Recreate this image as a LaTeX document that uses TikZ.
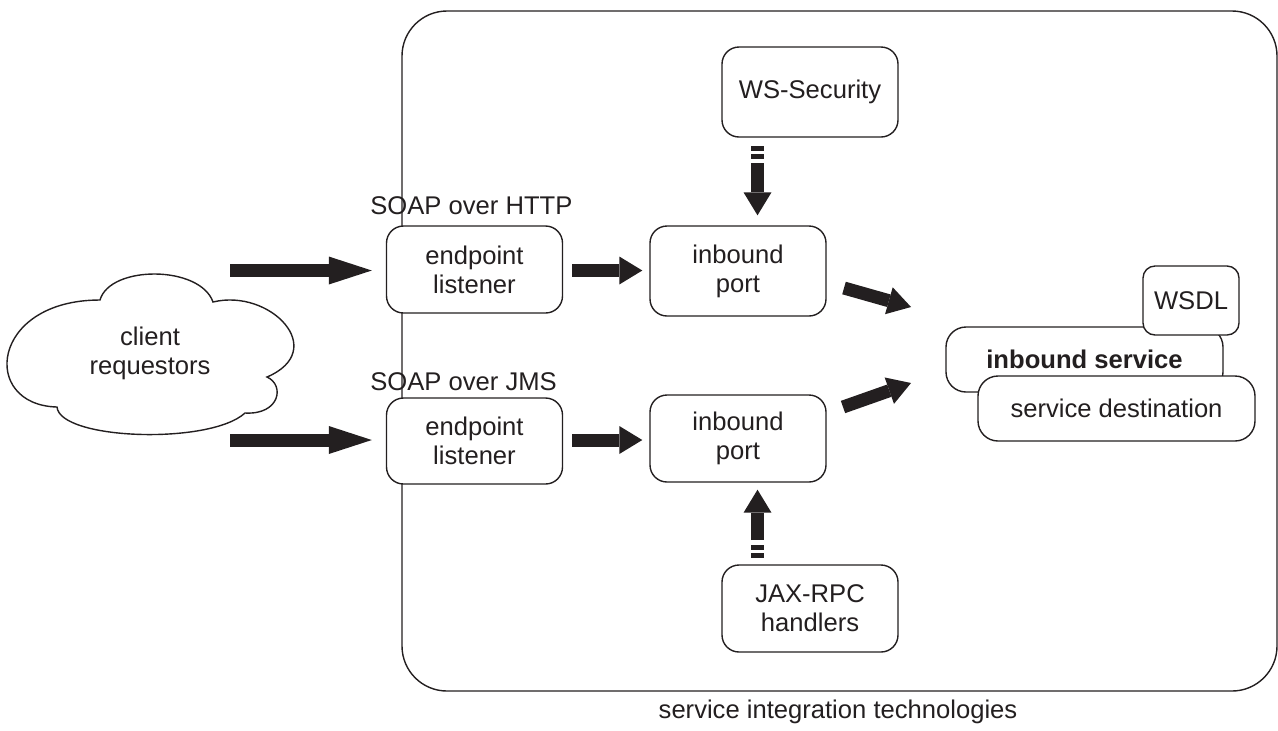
\documentclass[tikz,border=0pt]{standalone}
\usepackage{fontspec}
\setmainfont{Liberation Sans}
\usetikzlibrary{arrows.meta}
\definecolor{ink}{HTML}{231F20}
\begin{document}
\begin{tikzpicture}[x=0.5pt,y=-0.5pt,
  every node/.style={font=\fontsize{12.8}{14.5}\selectfont, text=ink},
  box/.style={draw=ink, line width=0.7pt, fill=white, rounded corners=8.5pt, align=center, inner sep=0pt, minimum width=88pt, minimum height=44pt},
  sbox/.style={draw=ink, line width=0.7pt, fill=white, rounded corners=10pt, inner sep=0pt, minimum width=138.5pt, minimum height=32.5pt},
  fatlong/.style={draw=ink, line width=6.5pt, -{Triangle[length=21.5pt, width=14pt, line width=0pt]}},
  fat/.style={draw=ink, line width=6.5pt, -{Triangle[length=11.5pt, width=14pt, line width=0pt]}},
  bar/.style={fill=ink}
]
\useasboundingbox (0,0) rectangle (1278,730);

% outer frame
\draw[ink, line width=0.7pt, rounded corners=22.5pt] (402,11) rectangle (1277,691);
\node (frame) at (838,712) {service integration technologies};

% cloud
\draw[ink, line width=0.7pt, fill=white] (57,407) .. controls (-20,405) and (-10,300) .. (100,300)
  .. controls (110,265) and (200,265) .. (213,302)
  .. controls (270,288) and (330,350) .. (267,377)
  .. controls (285,385) and (280,415) .. (245,413)
  .. controls (210,445) and (60,440) .. (57,407) -- cycle;
\node[align=center] (cloud) at (150,353) {client\\requestors};

% boxes
\node[box, minimum height=43.5pt] (ep1) at (474.5,269.5) {endpoint\\listener};
\node[box, minimum height=43pt] (ep2) at (474.5,441) {endpoint\\listener};
\node[box, minimum height=45pt] (ip1) at (738,271) {inbound\\port};
\node[box, minimum height=43.5pt] (ip2) at (738,438.5) {inbound\\port};
\node[box, minimum height=45pt] (ws) at (810,92) {WS-Security};
\node[box, minimum height=43.5pt] (jax) at (810,608.5) {JAX-RPC\\handlers};

\node[anchor=base west, inner sep=0pt] (lhttp) at (370,214) {SOAP over HTTP};
\node[anchor=base west, inner sep=0pt] (ljms) at (370,390) {SOAP over JMS};

% right stack
\node[sbox] (isvc) at (1084.5,359.5) {\bfseries inbound service};
\node[draw=ink, line width=0.7pt, fill=white, rounded corners=6pt, inner sep=0pt, minimum width=48pt, minimum height=34.5pt] (wsdl) at (1191,300.5) {WSDL};
\node[sbox] (sdest) at (1116.5,408.5) {service destination};

% horizontal arrows
\coordinate (c1) at (230,270.5);
\coordinate (c2) at (230,440);
\draw[fatlong] (c1) -- ([xshift=-7pt]c1 -| ep1.west);
\draw[fatlong] (c2) -- ([xshift=-7pt]c2 -| ep2.west);
\draw[fat] ([xshift=4.5pt]ep1.east |- c1) -- ([xshift=-3.5pt]ip1.west |- c1);
\draw[fat] ([xshift=4.5pt]ep2.east |- c2) -- ([xshift=-3.5pt]ip2.west |- c2);

% diagonal arrows
\coordinate (d1s) at (844,288);
\coordinate (d1e) at (911,307);
\coordinate (d2s) at (843,407);
\coordinate (d2e) at (911,383);
\draw[fat] (d1s) -- (d1e);
\draw[fat] (d2s) -- (d2e);

% vertical arrows with dashed tails
\coordinate (vx) at (757.5,0);
\draw[fat] (vx |- 0,163) -- ([yshift=5pt]vx |- ip1.north);
\fill[bar] (751,146) rectangle (764,151);
\fill[bar] (751,154) rectangle (764,159);
\draw[fat] (vx |- 0,540) -- ([yshift=-3.5pt]vx |- ip2.south);
\fill[bar] (751,545) rectangle (764,550);
\fill[bar] (751,553) rectangle (764,558);
\end{tikzpicture}
\end{document}
